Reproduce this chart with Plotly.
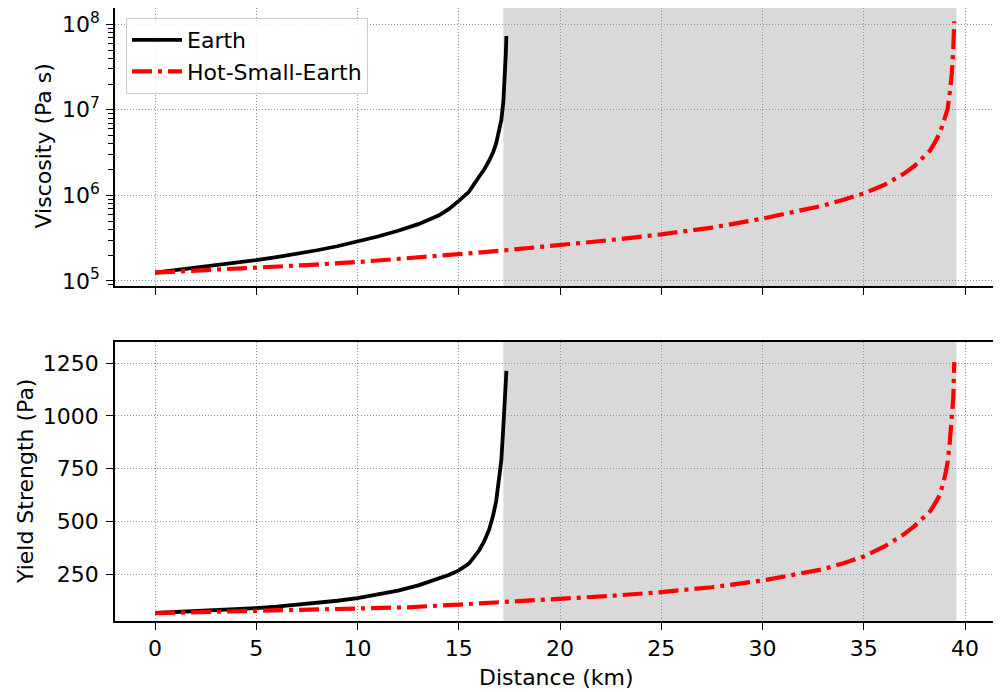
import plotly.graph_objects as go

# ---------------- data ----------------
earth_x = [0, 1, 2, 3, 4, 5, 6, 7, 8, 9, 10, 11, 12, 13, 14, 14.5, 15, 15.5, 16, 16.25,
           16.5, 16.7, 16.85, 17.0, 17.1, 17.2, 17.25, 17.28, 17.32, 17.35]
earth_visc = [1.25e5, 1.33e5, 1.42e5, 1.52e5, 1.63e5, 1.75e5, 1.9e5, 2.07e5, 2.28e5, 2.54e5,
              2.86e5, 3.3e5, 3.85e5, 4.6e5, 5.8e5, 6.9e5, 8.6e5, 1.1e6, 1.65e6, 2.0e6,
              2.55e6, 3.2e6, 4.1e6, 5.6e6, 7.6e6, 1.25e7, 1.9e7, 2.8e7, 4.5e7, 7.3e7]
earth_yield = [66, 70, 74, 79, 84, 89, 96, 104, 113, 124, 136, 152, 172, 197, 228, 246, 268,
               300, 362, 405, 462, 530, 600, 700, 790, 950, 1020, 1080, 1150, 1214]

hot_x = [0, 2.5, 5, 7.5, 10, 12.5, 15, 17.5, 20, 22.5, 25, 27.5, 30, 31.5, 33, 34, 35, 36,
         37, 37.5, 38, 38.27, 38.5, 38.76, 39.0, 39.14, 39.25, 39.35, 39.42, 39.47]
hot_visc = [1.25e5, 1.33e5, 1.42e5, 1.53e5, 1.66e5, 1.83e5, 2.05e5, 2.3e5, 2.6e5, 3.0e5,
            3.5e5, 4.2e5, 5.35e5, 6.3e5, 7.6e5, 8.9e5, 1.05e6, 1.32e6, 1.8e6, 2.2e6,
            2.85e6, 3.33e6, 4.1e6, 5.4e6, 8.0e6, 1.02e7, 1.6e7, 2.7e7, 5.1e7, 1.08e8]
hot_yield = [65, 70, 76, 81, 86, 93, 106, 118, 132, 147, 165, 188, 220, 245, 274, 302, 334,
             380, 440, 478, 520, 547, 582, 626, 710, 780, 879, 975, 1084, 1255]

shade_x = [17.2, 39.58]

x_ticks = [0, 5, 10, 15, 20, 25, 30, 35, 40]
visc_ticks = [1e5, 1e6, 1e7, 1e8]
visc_ticktext = ["10<sup>5</sup>", "10<sup>6</sup>", "10<sup>7</sup>", "10<sup>8</sup>"]
visc_minor = [m * 10 ** e for e in (4, 5, 6, 7, 8) for m in range(2, 10)]
yield_ticks = [250, 500, 750, 1000, 1250]

# ---------------- figure ----------------
OFF = 8                      # page body margin of the browser
W, H = 1001 - OFF, 692 - OFF
FONT = "DejaVu Sans"
FS = 22


def px(x):
    return (x - OFF) / W


def py(y):
    return min(1.0, 1 - (y - OFF) / H)


fig = go.Figure()

red_dash = "20px,6px,4px,6px"
black_line = dict(color="black", width=3.8)
red_line = dict(color="#ff0000", width=4.2, dash=red_dash)

fig.add_trace(go.Scatter(x=earth_x, y=earth_visc, mode="lines", name="Earth",
                         line=black_line, xaxis="x", yaxis="y"))
fig.add_trace(go.Scatter(x=hot_x, y=hot_visc, mode="lines", name="Hot-Small-Earth",
                         line=red_line, xaxis="x", yaxis="y"))
fig.add_trace(go.Scatter(x=earth_x, y=earth_yield, mode="lines", name="Earth", showlegend=False,
                         line=black_line, xaxis="x2", yaxis="y2"))
fig.add_trace(go.Scatter(x=hot_x, y=hot_yield, mode="lines", name="Hot-Small-Earth",
                         showlegend=False, line=red_line, xaxis="x2", yaxis="y2"))

for xr, yr in (("x", "y domain"), ("x2", "y2 domain")):
    fig.add_shape(type="rect", xref=xr, yref=yr, x0=shade_x[0], x1=shade_x[1], y0=0, y1=1,
                  fillcolor="#d9d9d9", line=dict(width=0), layer="below")

xdom = [px(115), px(997)]
ydom_top = [py(286), py(7)]
ydom_bot = [py(621), py(341.7)]
xrange_ = [-1.98, 41.58]

grid = dict(showgrid=True, gridcolor="#8895a8", griddash="1px,2px", gridwidth=1)
axline = dict(showline=True, linecolor="black", linewidth=1.5, mirror=True,
              ticks="outside", ticklen=7, tickwidth=1.3, tickcolor="black",
              tickfont=dict(family=FONT, size=FS, color="black"), zeroline=False,
              automargin=False)

fig.update_layout(
    width=W, height=H,
    margin=dict(l=0, r=0, t=0, b=0),
    paper_bgcolor="white", plot_bgcolor="white",
    font=dict(family=FONT, size=FS, color="black"),
    xaxis=dict(domain=xdom, anchor="y", range=xrange_, tickvals=x_ticks, showticklabels=False,
               **grid, **axline),
    yaxis=dict(domain=ydom_top, anchor="x", type="log", range=[4.94, 8.19],
               tickvals=visc_ticks, ticktext=visc_ticktext, ticklabelstandoff=2,
               minor=dict(tickmode="array", tickvals=visc_minor, ticks="outside", ticklen=5,
                          tickwidth=1.2, tickcolor="black", showgrid=False),
               **grid, **axline),
    xaxis2=dict(domain=xdom, anchor="y2", range=xrange_, tickvals=x_ticks, **grid, **axline),
    yaxis2=dict(domain=ydom_bot, anchor="x2", range=[28, 1352], tickvals=yield_ticks,
                ticklabelstandoff=3, **grid, **axline),
    legend=dict(x=px(126), y=py(18), xanchor="left", yanchor="top",
                bgcolor="rgba(255,255,255,0.85)", bordercolor="#cccccc", borderwidth=1,
                font=dict(family=FONT, size=FS, color="black"), itemwidth=50),
    showlegend=True,
)

title_font = dict(family=FONT, size=FS, color="black")
fig.add_annotation(text="Viscosity (Pa s)", xref="paper", yref="paper", x=px(43), y=py(146.5),
                   xanchor="center", yanchor="middle", textangle=-90, showarrow=False,
                   font=title_font)
fig.add_annotation(text="Yield Strength (Pa)", xref="paper", yref="paper", x=px(25), y=py(482),
                   xanchor="center", yanchor="middle", textangle=-90, showarrow=False,
                   font=title_font)
fig.add_annotation(text="Distance (km)", xref="paper", yref="paper", x=px(556), y=py(677),
                   xanchor="center", yanchor="middle", showarrow=False, font=title_font)

fig.write_html("out.html")
